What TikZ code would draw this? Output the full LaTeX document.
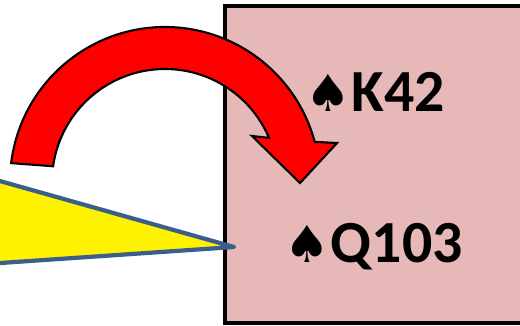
\documentclass[tikz,border=0pt]{standalone}
\usepackage{fontspec}
\setmainfont{Carlito}
\newfontfamily\suitfont{DejaVu Sans}
\newcommand\spade{{\suitfont\mdseries\fontsize{29}{30}\selectfont ♠}\kern0.5pt}
\definecolor{boxpink}{HTML}{E6B9B8}
\definecolor{edgeblue}{HTML}{3A5F8B}
\usetikzlibrary{positioning}
\tikzstyle{hand}=[font=\fontsize{34}{40}\selectfont\bfseries,inner sep=0pt]
\tikzstyle{box}=[draw=black,fill=boxpink,line width=2.2pt]
\tikzstyle{wedge}=[draw=edgeblue,fill=yellow,line width=2.4pt,line join=round]
\tikzstyle{bigarrow}=[draw=black,fill=red,line width=1.2pt]

\begin{document}
\begin{tikzpicture}[x=0.02cm, y=0.02cm]
  \useasboundingbox (0,0) rectangle (520,325);
  \clip (0,0) rectangle (520,325);
  \draw[box] (224.7,319) rectangle (560,2);
  \coordinate (apex) at (234,78);
  \draw[wedge] (-20,149.6) -- (apex) -- (-20,60.6) -- cycle;
  % curved arrow
  \coordinate (pivot) at (165,143);
  \draw[bigarrow] ([shift={(pivot)}]173:155)
    arc[start angle=173, end angle=15, radius=155]
    -- (337,182) -- (300,142) -- (252,189)
    -- ([shift={(pivot)}]23:113)
    arc[start angle=23, end angle=172, radius=113] -- cycle;
  \node[hand, anchor=base west] (north) at (305,214) {\spade K42};
  \node[hand, anchor=base west] (south) at (284,63) {\spade Q103};
\end{tikzpicture}
\end{document}
